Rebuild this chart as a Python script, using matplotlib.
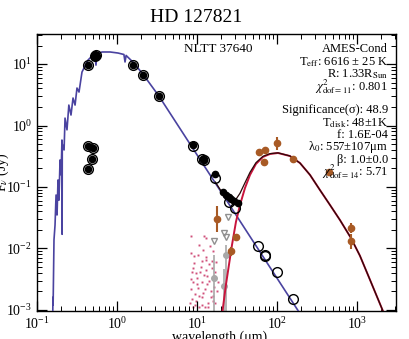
import matplotlib
matplotlib.use("Agg")
import matplotlib.pyplot as plt
from matplotlib.ticker import LogLocator, NullFormatter

plt.rcParams['font.family'] = ['Liberation Serif', 'DejaVu Serif']
plt.rcParams['mathtext.fontset'] = 'stix'

# ---------------- data ----------------
# stellar model (AMES-Cond) spectrum, wavelength (um) and flux (Jy)
star_wl = [0.157, 0.158, 0.159, 0.163, 0.168, 0.173, 0.178, 0.183, 0.188, 0.194, 0.200,
           0.205, 0.206, 0.207, 0.218, 0.224, 0.237, 0.25, 0.266, 0.282, 0.299, 0.316,
           0.335, 0.365, 0.398, 0.434, 0.487, 0.53, 0.546, 0.56, 0.65, 0.82, 1.03,
           1.22, 1.26, 1.30, 1.6, 2.1, 3.35, 205.0]
star_f = [0.0005, 0.0016, 0.0012, 0.0138, 0.024, 0.074, 0.035, 0.13, 0.061, 0.275, 0.157,
          0.58, 0.017, 0.5, 0.40, 1.32, 0.85, 2.15, 1.48, 2.8, 2.15, 4.07,
          3.5, 7.4, 9.3, 11.6, 13.5, 13.9, 9.6, 14.5, 15.7, 15.7, 15.1,
          14.3, 10.8, 13.8, 10.6, 6.9, 3.0, 0.00078]

# disk model (modified blackbody)
disk_wl = [20.2, 23.0, 25.1, 27.4, 30.7, 34.5, 39.8, 46.0, 54.6, 66.8, 81.7, 103, 145,
           194, 259, 345, 460, 613, 841, 1090, 1454, 2113, 2300]
disk_f = [0.0007, 0.00255, 0.0054, 0.0114, 0.027, 0.051, 0.096, 0.157, 0.237, 0.308,
          0.344, 0.357, 0.319, 0.245, 0.157, 0.089, 0.051, 0.029, 0.0148, 0.0076,
          0.0031, 0.00096, 0.0007]

# total model (star + disk)
tot_wl = [17.0, 20.5, 25.1, 27.4, 30.7, 34.5, 39.8, 46.0, 54.6, 66.8, 81.7, 103, 145,
          194, 259, 345, 460, 613, 841, 1090, 1454, 2113, 2300]
tot_f = [0.12, 0.082, 0.059, 0.056, 0.063, 0.079, 0.117, 0.173, 0.248, 0.315,
         0.348, 0.359, 0.320, 0.245, 0.157, 0.089, 0.051, 0.029, 0.0148, 0.0076,
         0.0031, 0.00096, 0.0007]

# observed photometry (black)
phot_wl = [0.43, 0.52, 0.54, 0.55, 0.53, 1.6, 2.11, 3.35, 0.43, 0.50, 0.49, 0.44,
           8.9, 11.9, 12.2, 16.8, 21.1, 23.0, 25.1, 26.6, 29.0, 32.5]
phot_f = [9.6, 13.2, 14.0, 13.6, 14.2, 9.7, 6.6, 3.0, 0.47, 0.43, 0.28, 0.195,
          0.48, 0.285, 0.27, 0.16, 0.083, 0.074, 0.069, 0.064, 0.059, 0.055]

# synthetic model photometry (open circles)
mod_wl = [0.43, 0.53, 0.55, 1.6, 2.11, 3.35, 0.43, 0.50, 0.49, 0.44,
          8.9, 11.6, 12.2, 16.8, 25.5, 30.0, 58.0, 70.0, 71.5, 100.0, 160.0]
mod_f = [9.6, 13.5, 13.8, 9.7, 6.6, 3.0, 0.47, 0.43, 0.28, 0.195,
         0.47, 0.29, 0.27, 0.14, 0.058, 0.046, 0.011, 0.0078, 0.0076, 0.0041, 0.0015]

# far-IR / sub-mm excess photometry (brown)
ex_wl = [59.6, 70.8, 100.0, 68.8, 158.0, 447.0, 850.0, 850.0, 17.8, 30.7, 26.6]
ex_f = [0.37, 0.40, 0.52, 0.255, 0.285, 0.175, 0.0216, 0.0132, 0.030, 0.0154, 0.0091]
ex_lo = [0.0, 0.0, 0.12, 0.0, 0.0, 0.0, 0.004, 0.0035, 0.0114, 0.002, 0.0015]
ex_hi = [0.0, 0.0, 0.13, 0.0, 0.0, 0.0, 0.004, 0.0040, 0.019, 0.002, 0.0015]

# upper limits (grey triangles)
ul_wl = [24.4, 21.8, 23.0, 16.3]
ul_f = [0.0325, 0.0179, 0.0154, 0.0132]

# low S/N points (grey)
gr_wl = [16.3, 21.8, 22.9]
gr_f = [0.0033, 0.00245, 0.0079]
gr_lo = [0.00325, 0.00244, 0.00785]
gr_hi = [0.0046, 0.0021, 0.0035]

# noisy spectrum (pink dots)
sp_wl = [8.4, 8.5, 8.8, 8.4, 9.0, 8.3, 9.5, 8.7, 8.9, 8.2, 10.5, 11.0, 11.4, 10.6, 11.7,
         12.4, 12.8, 13.3, 12.6, 13.6, 12.5, 12.9, 14.3, 15.2, 15.8, 16.5, 15.0, 16.2,
         17.0, 10.7, 9.6, 11.4, 14.0, 15.8, 10.4, 9.2, 14.8, 9.9, 11.9, 13.1, 17.5, 18.2,
         16.8, 10.1, 12.0, 9.4, 13.9, 15.5, 11.2, 8.6, 9.1, 10.3, 12.2, 13.5, 14.6, 17.8,
         16.0, 11.6, 9.8, 13.0]
sp_f = [0.0160, 0.0085, 0.0048, 0.0032, 0.0028, 0.0022, 0.0018, 0.0015, 0.0011, 0.0013,
        0.0115, 0.0042, 0.0028, 0.0017, 0.0012, 0.0160, 0.0065, 0.0035, 0.0022, 0.0013,
        0.0011, 0.0148, 0.0055, 0.0048, 0.0090, 0.0024, 0.0016, 0.0035, 0.0042, 0.0011,
        0.0040, 0.0062, 0.0030, 0.0014, 0.0078, 0.0058, 0.0020, 0.0026, 0.0019, 0.0045,
        0.0060, 0.0028, 0.0013, 0.0033, 0.0095, 0.0012, 0.0011, 0.0062, 0.0050, 0.0041,
        0.0075, 0.0023, 0.0037, 0.0026, 0.0110, 0.0020, 0.0017, 0.0016, 0.0014, 0.0072]

# ---------------- figure ----------------
fig = plt.figure(figsize=(4.09, 3.39), dpi=100)
ax = fig.add_axes([0.0905, 0.0826, 0.8775, 0.8171])
ax.set_xscale('log')
ax.set_yscale('log')

ax.plot(sp_wl, sp_f, 's', ms=1.4, color='#d0507a', mew=0, zorder=1)
ax.plot(star_wl, star_f, '-', color='#4a43a0', lw=1.2, zorder=3)
ax.plot(disk_wl, disk_f, '-', color='#c8143c', lw=1.4, zorder=3)
ax.plot(tot_wl, tot_f, '-', color='#2a0a0a', lw=0.9, zorder=4)

ax.errorbar(gr_wl, gr_f, yerr=[gr_lo, gr_hi], fmt='o', ms=4, color='#a8a8a8',
            ecolor='#a8a8a8', elinewidth=1.2, capsize=0, zorder=2)
ax.plot(ul_wl, ul_f, 'v', ms=5, mfc='none', mec='#909090', mew=1.0, zorder=2)

ax.plot(mod_wl, mod_f, 'o', ms=7, mfc='none', mec='black', mew=1.0, zorder=5)
ax.plot(phot_wl, phot_f, 'o', ms=4.5, color='black', zorder=6)

ax.errorbar(ex_wl, ex_f, yerr=[ex_lo, ex_hi], fmt='o', ms=4.5, color='#a85a25',
            ecolor='#a85a25', elinewidth=1.5, capsize=0, zorder=7)

ax.set_xlim(0.1, 3070)
ax.set_ylim(0.00096, 30.8)

ax.xaxis.set_major_locator(LogLocator(base=10, numticks=10))
ax.yaxis.set_major_locator(LogLocator(base=10, numticks=10))
ax.xaxis.set_minor_locator(LogLocator(base=10, subs=range(2, 10), numticks=20))
ax.yaxis.set_minor_locator(LogLocator(base=10, subs=range(2, 10), numticks=20))
ax.xaxis.set_minor_formatter(NullFormatter())
ax.yaxis.set_minor_formatter(NullFormatter())
ax.tick_params(which='both', direction='in', top=True, right=True, labelsize=10)
ax.tick_params(which='major', length=7, width=0.9)
ax.tick_params(which='minor', length=3.5, width=0.7)
for s in ax.spines.values():
    s.set_linewidth(1.0)

ax.set_xlabel('wavelength (μm)', fontsize=10)
ax.xaxis.set_label_coords(0.51, -0.07)
ax.set_ylabel(r'F$_\nu$ (Jy)', fontsize=10)
ax.yaxis.set_label_coords(-0.072, 0.5)
fig.text(0.48, 0.947, 'HD 127821', ha='center', va='center', fontsize=14)

ax.text(0.505, 0.945, 'NLTT 37640', transform=ax.transAxes, ha='center', va='center', fontsize=9.5)

lines = [
    ('AMES-Cond', 49),
    (r'T$_{\mathrm{eff}}$: 6616 ± 25 K', 62),
    (r'R: 1.33R$_{\mathrm{Sun}}$', 74),
    (r'$\chi^2_{\mathrm{dof=11}}$: 0.801', 87),
    ('Significance(σ): 48.9', 110),
    (r'T$_{\mathrm{disk}}$: 48±1K', 123),
    ('f: 1.6E-04', 135),
    (r'λ$_0$: 557±107μm', 147),
    ('β: 1.0±0.0', 160),
    (r'$\chi^2_{\mathrm{dof=14}}$: 5.71', 172),
]
for txt, ypx in lines:
    fig.text(388 / 409, 1 - ypx / 339, txt, ha='right', va='center', fontsize=9)

fig.savefig('out.png', dpi=100)
